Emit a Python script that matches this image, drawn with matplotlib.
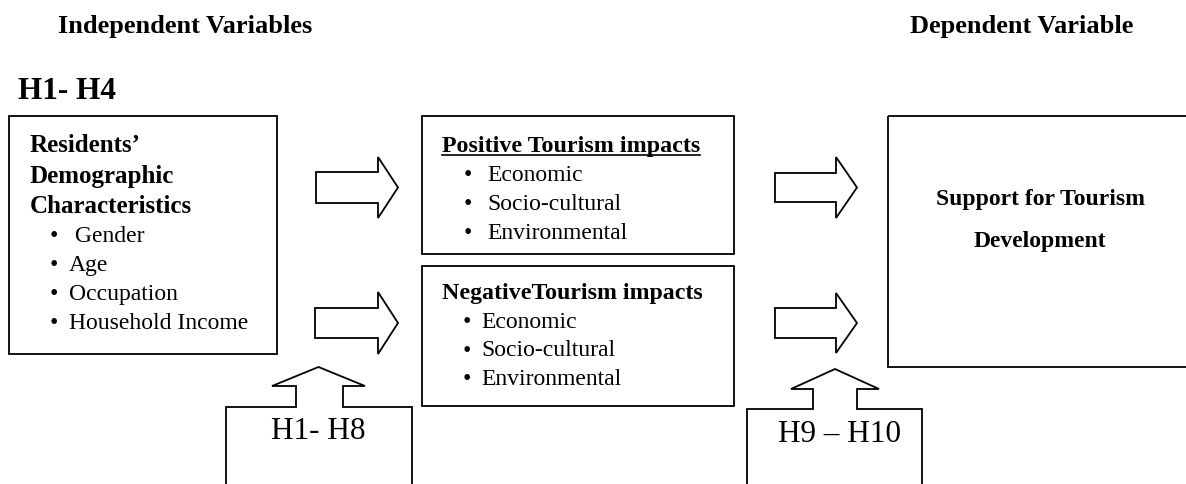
import matplotlib
matplotlib.use("Agg")
import matplotlib.pyplot as plt
from matplotlib.patches import Rectangle, Polygon

W, H = 1186, 484
SERIF = "Liberation Serif"
LW = 1.3

# text content
headers = ["Independent Variables", "Dependent Variable"]
hyp_top = "H1- H4"
demo_title = ["Residents\u2019", "Demographic", "Characteristics"]
demo_items = [" Gender", "Age", "Occupation", "Household Income"]
pos_title = "Positive Tourism impacts"
neg_title = "NegativeTourism impacts"
impact_items = ["Economic", "Socio-cultural", "Environmental"]
outcome = ["Support for Tourism", "Development"]
hyp_bottom = ["H1- H8", "H9 \u2013 H10"]

fig = plt.figure(figsize=(W / 100, H / 100), dpi=100)
ax = fig.add_axes([0, 0, 1, 1])
ax.set_xlim(0, W)
ax.set_ylim(H, 0)
ax.axis("off")


def box(x0, y0, x1, y1):
    ax.add_patch(Rectangle((x0, y0), x1 - x0, y1 - y0, fill=False,
                           lw=LW, ec="black"))


def right_arrow(x0, x1, tip, yc, body_h, head_h):
    pts = [(x0, yc - body_h / 2), (x1, yc - body_h / 2), (x1, yc - head_h / 2),
           (tip, yc), (x1, yc + head_h / 2), (x1, yc + body_h / 2),
           (x0, yc + body_h / 2)]
    ax.add_patch(Polygon(pts, closed=True, fill=False, lw=LW, ec="black",
                         joinstyle="miter"))


def up_callout(bx0, bx1, btop, sx0, sx1, hx0, hx1, hbase, tip_y):
    xc = (hx0 + hx1) / 2
    pts = [(bx0, H + 5), (bx0, btop), (sx0, btop), (sx0, hbase), (hx0, hbase),
           (xc, tip_y), (hx1, hbase), (sx1, hbase), (sx1, btop), (bx1, btop),
           (bx1, H + 5)]
    ax.plot([p[0] for p in pts], [p[1] for p in pts], color="black", lw=LW,
            solid_joinstyle="miter")


def txt(x, y, s, size=17, bold=False, ha="left"):
    return ax.text(x, y, s, fontsize=size, fontfamily=SERIF,
                   fontweight="bold" if bold else "normal",
                   ha=ha, va="baseline")


# headers
txt(58, 33, headers[0], size=19, bold=True)
txt(1133, 33, headers[1], size=19, bold=True, ha="right")
txt(18, 99, hyp_top, size=22.5, bold=True)

# boxes
box(9, 116, 277, 354)
box(422, 116, 734, 254)
box(422, 266, 734, 406)
box(888, 116, 1200, 367)

# demographic box text
for i, s in enumerate(demo_title):
    txt(30, 152 + i * 30.5, s, size=18, bold=True)
for i, s in enumerate(demo_items):
    y = 242 + i * 29
    txt(54, y, "\u2022", ha="center")
    txt(69, y, s)

# positive impacts
t = txt(442, 152, pos_title, size=17.3, bold=True)
fig.canvas.draw()
bb = t.get_window_extent().transformed(ax.transData.inverted())
ax.plot([bb.x0, bb.x1], [155, 155], color="black", lw=1.2)
for i, s in enumerate(impact_items):
    y = 181 + i * 29
    txt(468, y, "\u2022", ha="center")
    txt(487, y, s)

# negative impacts
txt(442, 299, neg_title, size=17.2, bold=True)
for i, s in enumerate(impact_items):
    y = 328 + i * 28.5
    txt(467, y, "\u2022", ha="center")
    txt(481, y, s)

# outcome
txt(1040, 205, outcome[0], bold=True, ha="center")
txt(1040, 247, outcome[1], bold=True, ha="center")

# block arrows
right_arrow(316, 378, 398, 187.5, 31, 61)
right_arrow(315, 378, 398, 323, 30, 62)
right_arrow(775, 836, 857, 187.5, 29, 61)
right_arrow(775, 836, 857, 323, 30, 60)

# hypothesis callouts
up_callout(226, 412, 407, 296, 343, 272, 365, 386, 367)
up_callout(747, 922, 409, 813, 857, 791, 879, 389, 369)
txt(318, 439, hyp_bottom[0], size=22.5, ha="center")
txt(839, 442, hyp_bottom[1], size=22.5, ha="center")

fig.savefig("out.png", dpi=100, facecolor="white")
